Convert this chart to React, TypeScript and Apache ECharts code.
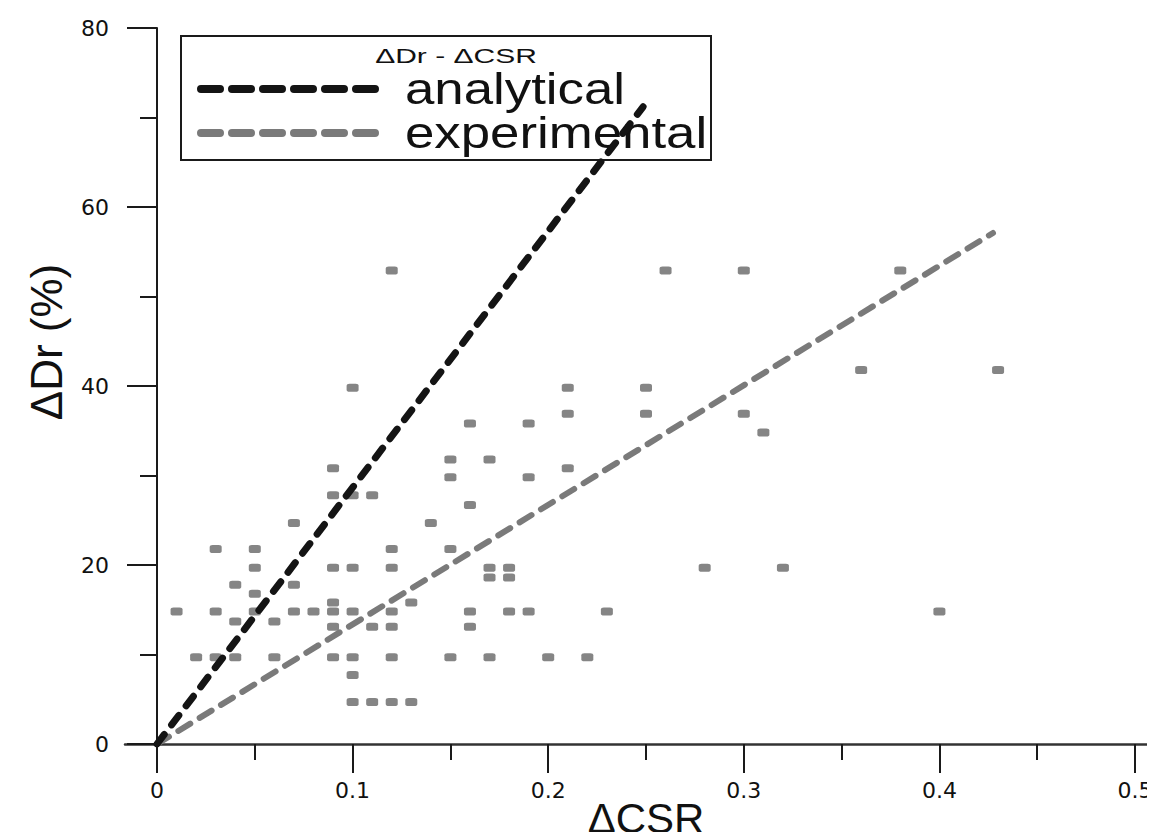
import React, { useEffect, useRef } from "react";
import * as echarts from "echarts";

// Measured specimens: change of cyclic stress ratio vs. change of relative density
const csrChange = [
  0.12, 0.26, 0.30, 0.38,
  0.36, 0.43,
  0.10, 0.21, 0.25,
  0.21, 0.25, 0.30,
  0.16, 0.19,
  0.31,
  0.15, 0.17,
  0.09, 0.21,
  0.15, 0.19,
  0.09, 0.10, 0.11,
  0.16,
  0.07, 0.14,
  0.03, 0.05, 0.12, 0.15,
  0.05, 0.09, 0.10, 0.12, 0.17, 0.18, 0.28, 0.32,
  0.17, 0.18,
  0.04, 0.07,
  0.05,
  0.09, 0.13,
  0.01, 0.03, 0.05, 0.07, 0.08, 0.09, 0.10, 0.12, 0.16, 0.18, 0.19, 0.23, 0.40,
  0.04, 0.06,
  0.09, 0.11, 0.12, 0.16,
  0.02, 0.03, 0.04, 0.06, 0.09, 0.10, 0.12, 0.15, 0.17, 0.20, 0.22,
  0.10,
  0.10, 0.11, 0.12, 0.13,
];

const drChange = [
  52.9, 52.9, 52.9, 52.9,
  41.8, 41.8,
  39.8, 39.8, 39.8,
  36.9, 36.9, 36.9,
  35.8, 35.8,
  34.8,
  31.8, 31.8,
  30.8, 30.8,
  29.8, 29.8,
  27.8, 27.8, 27.8,
  26.7,
  24.7, 24.7,
  21.8, 21.8, 21.8, 21.8,
  19.7, 19.7, 19.7, 19.7, 19.7, 19.7, 19.7, 19.7,
  18.6, 18.6,
  17.8, 17.8,
  16.8,
  15.8, 15.8,
  14.8, 14.8, 14.8, 14.8, 14.8, 14.8, 14.8, 14.8, 14.8, 14.8, 14.8, 14.8, 14.8,
  13.7, 13.7,
  13.1, 13.1, 13.1, 13.1,
  9.7, 9.7, 9.7, 9.7, 9.7, 9.7, 9.7, 9.7, 9.7, 9.7, 9.7,
  7.7,
  4.7, 4.7, 4.7, 4.7,
];

// Straight-line relations through the origin: [ΔCSR, ΔDr]
const analyticalLine = [
  [0, 0],
  [0.2485, 71.2],
];
const experimentalLine = [
  [0, 0],
  [0.4274, 57.1],
];

const xTitle = "ΔCSR";
const yTitle = "ΔDr (%)";
const legendTitle = "ΔDr - ΔCSR";
const legendNames = ["analytical", "experimental"];

const SANS = '"Liberation Sans", Arial, Helvetica, sans-serif';
const TICK_FONT = '"DejaVu Sans", sans-serif';
const INK = "#1a1a1a";
const ANALYTICAL_COLOR = "#141414";
const EXPERIMENTAL_COLOR = "#7a7a7a";
const POINT_COLOR = "#666666";

export default function App() {
  const ref = useRef<HTMLDivElement>(null);

  useEffect(() => {
    if (!ref.current) return;
    const chart = echarts.init(ref.current, null, { renderer: "svg" });

    const points = csrChange.map((x, i) => [x, drChange[i]]);

    const tickLine = { color: INK, width: 2 };

    chart.setOption({
      animation: false,
      backgroundColor: "#ffffff",
      grid: [
        { left: 157, right: 20, top: 28, bottom: 96, outerBoundsMode: "none" },
        // wider grid that only carries the long horizontal base line
        { left: 125, right: 0, top: 28, bottom: 96, outerBoundsMode: "none" },
      ],
      xAxis: [
        {
          type: "value",
          gridIndex: 0,
          min: 0,
          max: 0.5,
          interval: 0.1,
          axisLine: { show: false },
          axisTick: { show: true, length: 29, lineStyle: tickLine },
          minorTick: { show: true, splitNumber: 2, length: 16, lineStyle: tickLine },
          splitLine: { show: false },
          minorSplitLine: { show: false },
          axisLabel: {
            margin: 35,
            fontSize: 22,
            fontFamily: TICK_FONT,
            color: "#111",
          },
        },
        {
          type: "value",
          gridIndex: 1,
          min: 0,
          max: 1,
          axisLine: { show: true, onZero: false, lineStyle: { color: "#333", width: 2.5 } },
          axisTick: { show: false },
          axisLabel: { show: false },
          splitLine: { show: false },
        },
      ],
      yAxis: [
        {
          type: "value",
          gridIndex: 0,
          min: 0,
          max: 80,
          interval: 20,
          axisLine: { show: true, onZero: false, lineStyle: { color: INK, width: 2 } },
          axisTick: { show: true, length: 30, lineStyle: tickLine },
          minorTick: { show: true, splitNumber: 2, length: 17, lineStyle: tickLine },
          splitLine: { show: false },
          minorSplitLine: { show: false },
          axisLabel: {
            margin: 48,
            fontSize: 22,
            fontFamily: TICK_FONT,
            color: "#111",
          },
        },
        { type: "value", gridIndex: 1, show: false, min: 0, max: 1 },
      ],
      graphic: [
        {
          type: "text",
          x: 646,
          y: 818,
          style: {
            text: xTitle,
            font: `42px ${SANS}`,
            fill: "#111",
            align: "center",
            verticalAlign: "middle",
          },
        },
        {
          type: "text",
          x: 46,
          y: 342,
          rotation: Math.PI / 2,
          style: {
            text: yTitle,
            font: `44px ${SANS}`,
            fill: "#111",
            align: "center",
            verticalAlign: "middle",
          },
        },
        {
          type: "rect",
          z: 1,
          shape: { x: 181, y: 36, width: 530, height: 124 },
          style: { fill: "none", stroke: INK, lineWidth: 2 },
        },
        {
          type: "text",
          z: 1,
          x: 456,
          y: 56,
          scaleX: 1.5,
          style: {
            text: legendTitle,
            font: `20px ${SANS}`,
            fill: "#111",
            align: "center",
            verticalAlign: "middle",
          },
        },
        {
          type: "line",
          z: 1,
          shape: { x1: 201, y1: 89, x2: 380, y2: 89 },
          style: {
            stroke: ANALYTICAL_COLOR,
            lineWidth: 8,
            lineDash: [19, 12],
            lineCap: "round",
          },
        },
        {
          type: "line",
          z: 1,
          shape: { x1: 201, y1: 133, x2: 380, y2: 133 },
          style: {
            stroke: EXPERIMENTAL_COLOR,
            lineWidth: 8,
            lineDash: [19, 12],
            lineCap: "round",
          },
        },
        {
          type: "text",
          z: 1,
          x: 405,
          y: 89,
          scaleX: 1.2,
          style: {
            text: legendNames[0],
            font: `44px ${SANS}`,
            fill: "#111",
            verticalAlign: "middle",
          },
        },
        {
          type: "text",
          z: 1,
          x: 405,
          y: 133,
          scaleX: 1.2,
          style: {
            text: legendNames[1],
            font: `44px ${SANS}`,
            fill: "#111",
            verticalAlign: "middle",
          },
        },
      ],
      series: [
        {
          name: "measured",
          type: "scatter",
          xAxisIndex: 0,
          yAxisIndex: 0,
          z: 3,
          symbol: "roundRect",
          symbolSize: [12, 8],
          itemStyle: { color: POINT_COLOR },
          data: points,
          silent: true,
        },
        {
          name: legendNames[1],
          type: "line",
          xAxisIndex: 0,
          yAxisIndex: 0,
          z: 4,
          symbol: "none",
          data: experimentalLine,
          lineStyle: { color: EXPERIMENTAL_COLOR, width: 6, type: [14, 11], cap: "round" },
          silent: true,
        },
        {
          name: legendNames[0],
          type: "line",
          xAxisIndex: 0,
          yAxisIndex: 0,
          z: 5,
          symbol: "none",
          data: analyticalLine,
          lineStyle: { color: ANALYTICAL_COLOR, width: 7, type: [12, 12], cap: "round" },
          silent: true,
        },
      ],
    });

    return () => chart.dispose();
  }, []);

  return <div ref={ref} style={{ width: 1155, height: 840, margin: -8 }} />;
}
